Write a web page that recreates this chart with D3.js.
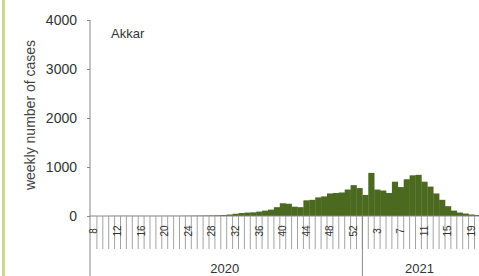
<!DOCTYPE html>
<html>
<head>
<meta charset="utf-8">
<script src="https://cdn.jsdelivr.net/npm/d3@7/dist/d3.min.js"></script>
<style>
  body { margin: 0; background: #fff; }
  svg { display: block; }
</style>
</head>
<body>
<div id="chart"></div>
<script>
// weekly cases, Akkar
const weeks2020 = [8, 9, 10, 11, 12, 13, 14, 15, 16, 17, 18, 19, 20, 21, 22, 23, 24, 25, 26, 27, 28, 29, 30,
  31, 32, 33, 34, 35, 36, 37, 38, 39, 40, 41, 42, 43, 44, 45, 46, 47, 48, 49, 50, 51, 52, 53];
const cases2020 = [0, 0, 0, 2, 3, 3, 2, 2, 2, 1, 1, 1, 2, 3, 3, 4, 5, 6, 8, 10, 12, 15, 20,
  30, 45, 60, 70, 75, 90, 110, 130, 180, 260, 250, 190, 180, 320, 330, 380, 400, 460, 470, 480, 540, 630, 570];
const weeks2021 = [1, 2, 3, 4, 5, 6, 7, 8, 9, 10, 11, 12, 13, 14, 15, 16, 17, 18, 19, 20];
const cases2021 = [430, 880, 540, 520, 470, 700, 590, 750, 830, 840, 700, 600, 460, 330, 200, 110, 70, 50, 30, 20];
const yTicks = [0, 1000, 2000, 3000, 4000];
const years = ["2020", "2021"];
const regionName = "Akkar";
const yTitle = "weekly number of cases";

function drawChart() {
    const W = 479, H = 276;
    const svg = d3.select("#chart").append("svg")
        .attr("width", W)
        .attr("height", H);

    const data = weeks2020.map((w, i) => ({ key: "2020-" + w, week: w, year: "2020", value: cases2020[i] }))
        .concat(weeks2021.map((w, i) => ({ key: "2021-" + w, week: w, year: "2021", value: cases2021[i] })));

    const x = d3.scaleBand()
        .domain(data.map((d) => d.key))
        .range([91, 480.4])
        .padding(0);
    const y = d3.scaleLinear().domain([0, 4000]).range([216, 20]);

    const font = "'Liberation Sans', Arial, sans-serif";

    // left frame strip from the source figure
    svg.append("rect")
        .attr("x", 2).attr("y", 0)
        .attr("width", 3).attr("height", H)
        .attr("fill", "#cdd890");

    // bars
    svg.append("g")
        .selectAll("rect")
        .data(data)
        .join("rect")
        .attr("x", (d) => x(d.key))
        .attr("y", (d) => y(d.value))
        .attr("width", x.bandwidth() + 0.3)
        .attr("height", (d) => y(0) - y(d.value))
        .attr("fill", "#4b6a1f");

    // y axis
    const yAxis = svg.append("g")
        .attr("transform", "translate(90,0)")
        .call(d3.axisLeft(y).tickValues(yTicks).tickFormat(d3.format("d")).tickSize(3).tickPadding(10));
    yAxis.select(".domain").remove();
    yAxis.selectAll("line").attr("stroke", "#888");
    yAxis.selectAll("text")
        .attr("fill", "#333")
        .style("font-family", font)
        .style("font-size", "14px");

    svg.append("line")
        .attr("x1", 90).attr("x2", 90)
        .attr("y1", y(4000)).attr("y2", H)
        .attr("stroke", "#888");

    // x axis line + category ticks
    svg.append("line")
        .attr("x1", 90).attr("x2", W)
        .attr("y1", y(0)).attr("y2", y(0))
        .attr("stroke", "#888");

    svg.append("g")
        .selectAll("line")
        .data(data.slice(1))
        .join("line")
        .attr("x1", (d) => x(d.key))
        .attr("x2", (d) => x(d.key))
        .attr("y1", y(0))
        .attr("y2", y(0) + 33)
        .attr("stroke", "#999")
        .attr("stroke-width", 0.9);

    // week labels, every 4th
    svg.append("g")
        .selectAll("text")
        .data(data.filter((d, i) => i % 4 === 0))
        .join("text")
        .attr("transform", (d) => `translate(${x(d.key) + x.bandwidth() / 2 + 3.5},231) rotate(-90)`)
        .attr("text-anchor", "middle")
        .attr("fill", "#333")
        .style("font-family", font)
        .style("font-size", "10px")
        .text((d) => d.week);

    // year separator + year labels
    const first2021 = data.find((d) => d.year === "2021");
    svg.append("line")
        .attr("x1", x(first2021.key)).attr("x2", x(first2021.key))
        .attr("y1", y(0)).attr("y2", H)
        .attr("stroke", "#888");

    years.forEach((yr) => {
        const ds = data.filter((d) => d.year === yr);
        const x0 = x(ds[0].key);
        const x1 = x(ds[ds.length - 1].key) + x.bandwidth();
        svg.append("text")
            .attr("x", (x0 + x1) / 2 - 2)
            .attr("y", 273)
            .attr("text-anchor", "middle")
            .attr("fill", "#333")
            .style("font-family", font)
            .style("font-size", "13px")
            .text(yr);
    });

    // y title
    svg.append("text")
        .attr("transform", "translate(35,115) rotate(-90)")
        .attr("text-anchor", "middle")
        .attr("fill", "#444")
        .style("font-family", font)
        .style("font-size", "14px")
        .text(yTitle);

    // region name
    svg.append("text")
        .attr("x", 111)
        .attr("y", 38)
        .attr("fill", "#333")
        .style("font-family", font)
        .style("font-size", "13px")
        .text(regionName);
}

drawChart();
</script>
</body>
</html>
